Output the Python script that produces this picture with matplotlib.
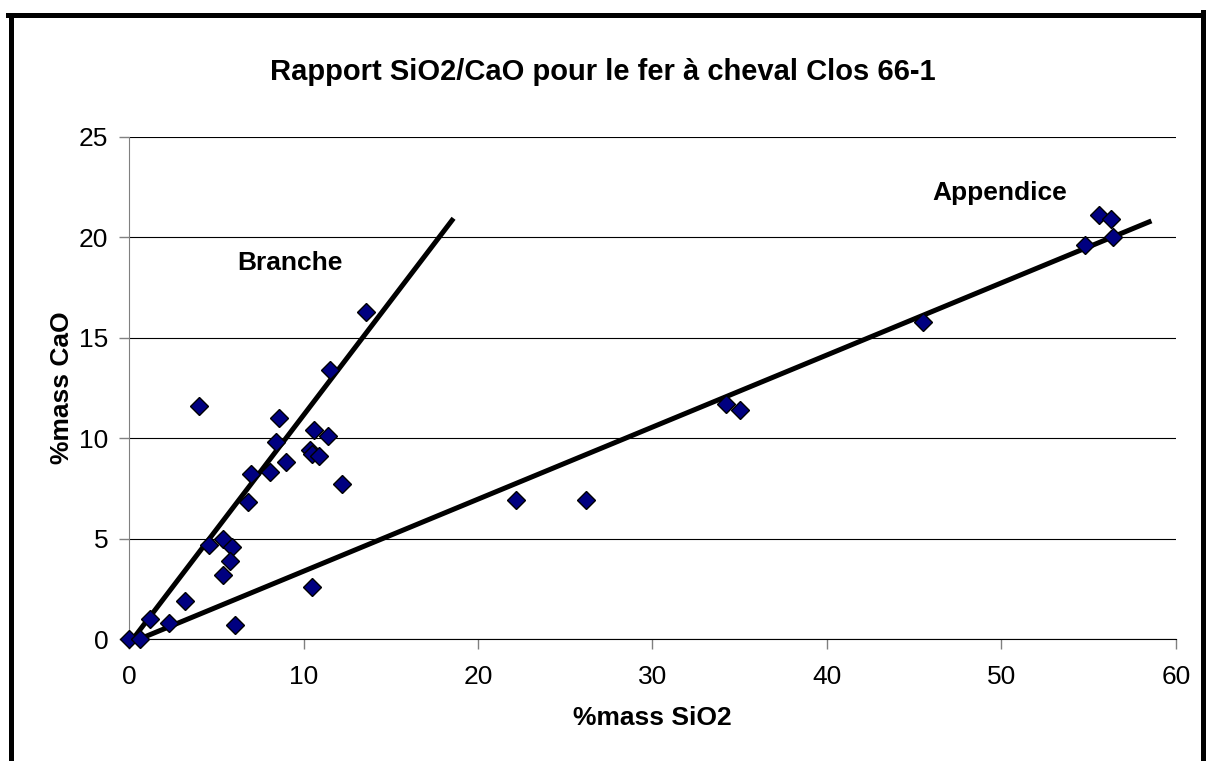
"""SiO2 / CaO ratio scatter for the Clos 66-1 horseshoe"""
import matplotlib
matplotlib.use("Agg")
import matplotlib.pyplot as plt
from matplotlib.lines import Line2D

plt.rcParams['font.family'] = ['Liberation Sans', 'DejaVu Sans']

# measured points (% mass)
sio2 = [0.0, 0.6, 1.2, 2.3, 3.2, 4.0, 4.6, 5.4, 5.9, 5.8, 5.4, 6.1, 6.8, 7.0,
        8.1, 8.4, 8.6, 9.0, 10.5, 10.6, 10.4, 10.5, 10.9, 11.4, 11.5, 12.2,
        13.6, 22.2, 26.2, 34.2, 35.0, 45.5, 54.8, 55.6, 56.3, 56.4]
cao = [0.0, 0.0, 1.0, 0.8, 1.9, 11.6, 4.7, 5.0, 4.6, 3.9, 3.2, 0.7, 6.8, 8.2,
       8.3, 9.8, 11.0, 8.8, 2.6, 10.4, 9.4, 9.2, 9.1, 10.1, 13.4, 7.7,
       16.3, 6.9, 6.9, 11.7, 11.4, 15.8, 19.6, 21.1, 20.9, 20.0]

# trend lines (end points)
branche_x = [0.25, 18.6]
branche_y = [0.03, 20.95]
appendice_x = [0.6, 58.6]
appendice_y = [0.0, 20.82]

fig = plt.figure(figsize=(12.06, 7.61), dpi=100)
ax = fig.add_axes([0.107, 0.1603, 0.868, 0.6597])

ax.plot(branche_x, branche_y, color='black', lw=3.6, solid_capstyle='butt', zorder=2)
ax.plot(appendice_x, appendice_y, color='black', lw=3.6, solid_capstyle='butt', zorder=2)
ax.plot(sio2, cao, linestyle='none', marker='D', ms=9.5, mfc='#000080',
        mec='black', mew=1.0, clip_on=False, zorder=3)

ax.set_xlim(0, 60)
ax.set_ylim(0, 25)
ax.set_xticks(range(0, 61, 10))
ax.set_yticks(range(0, 26, 5))
ax.yaxis.grid(True, color='black', lw=0.8)
ax.set_axisbelow(True)
for side in ('top', 'right'):
    ax.spines[side].set_visible(False)
ax.spines['left'].set_color('#808080')
ax.spines['bottom'].set_color('black')
ax.tick_params(axis='both', labelsize=19, length=7, width=1, color='#808080')
ax.tick_params(axis='x', pad=12)
ax.tick_params(axis='y', pad=8)

ax.text(9.2, 18.7, 'Branche', fontsize=19, fontweight='bold', ha='center', va='center')
ax.text(49.9, 22.2, 'Appendice', fontsize=19, fontweight='bold', ha='center', va='center')

fig.text(0.5, 0.906, 'Rapport SiO2/CaO pour le fer à cheval Clos 66-1',
         fontsize=21, fontweight='bold', ha='center', va='center')
fig.text(0.541, 0.0565, '%mass SiO2', fontsize=19, fontweight='bold',
         ha='center', va='center')
fig.text(0.0514, 0.49, '%mass CaO', fontsize=19, fontweight='bold',
         ha='center', va='center', rotation=90)

# outer frame of the chart area
fw = 5
fig.add_artist(Line2D([10.5 / 1206, 10.5 / 1206], [0, 1 - 14.5 / 761],
                      color='black', lw=fw * 0.72, transform=fig.transFigure))
fig.add_artist(Line2D([8 / 1206, 1], [1 - 14.5 / 761, 1 - 14.5 / 761],
                      color='black', lw=fw * 0.72, transform=fig.transFigure))
fig.add_artist(Line2D([1203 / 1206, 1203 / 1206], [0, 1 - 12 / 761],
                      color='black', lw=fw * 0.72, transform=fig.transFigure))

fig.savefig('out.png', dpi=100)
